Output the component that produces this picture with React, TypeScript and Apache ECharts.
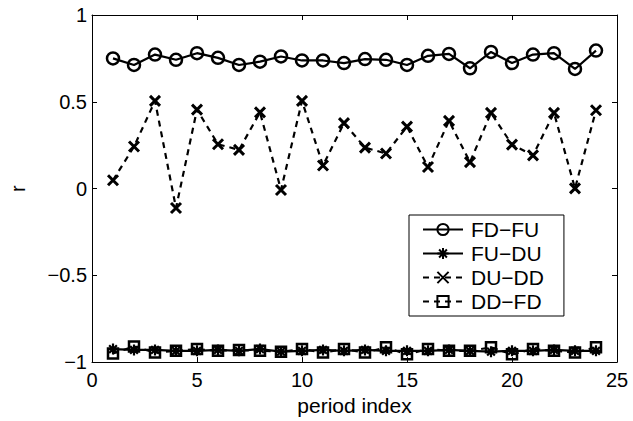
import React, { useEffect, useRef } from "react";
import * as echarts from "echarts";

const periods = [1,2,3,4,5,6,7,8,9,10,11,12,13,14,15,16,17,18,19,20,21,22,23,24];
const fdFu = [0.750,0.712,0.772,0.742,0.780,0.753,0.712,0.731,0.761,0.738,0.738,0.723,0.746,0.742,0.712,0.765,0.776,0.693,0.787,0.723,0.772,0.780,0.689,0.795];
const fuDu = [-0.925,-0.93,-0.93,-0.935,-0.935,-0.93,-0.935,-0.925,-0.94,-0.935,-0.93,-0.935,-0.93,-0.935,-0.935,-0.935,-0.93,-0.935,-0.94,-0.935,-0.935,-0.93,-0.935,-0.935];
const duDd = [0.048,0.242,0.505,-0.112,0.455,0.255,0.223,0.439,-0.008,0.505,0.133,0.377,0.236,0.202,0.357,0.124,0.390,0.152,0.436,0.253,0.191,0.436,0.001,0.451];
const ddFd = [-0.95,-0.91,-0.945,-0.935,-0.925,-0.935,-0.93,-0.935,-0.94,-0.925,-0.945,-0.925,-0.945,-0.915,-0.955,-0.925,-0.935,-0.935,-0.915,-0.955,-0.925,-0.935,-0.945,-0.915];
const seriesNames = ["FD\u2212FU", "FU\u2212DU", "DU\u2212DD", "DD\u2212FD"];
const xTitle = "period index";
const yTitle = "r";

const FONT = "Liberation Sans";
const CIRCLE = "path://M6,0A6,6,0,1,1,-6,0A6,6,0,1,1,6,0Z";
const ASTERISK = "path://M0,-5L0,5M-5,0L5,0M-3.5,-3.5L3.5,3.5M-3.5,3.5L3.5,-3.5";
const CROSS = "path://M-5,-5L5,5M-5,5L5,-5";
const SQUARE = "path://M-5,-5L5,-5L5,5L-5,5Z";

export default function App() {
  const ref = useRef<HTMLDivElement>(null);
  useEffect(() => {
    if (!ref.current) return;
    const chart = echarts.init(ref.current, undefined, { renderer: "svg" });
    const toPairs = (arr: number[]) => arr.map((v, i) => [periods[i], v]);
    const axisCommon = {
      axisLine: { show: true, onZero: false, lineStyle: { color: "#000", width: 1 } },
      axisTick: { show: true, inside: true, length: 5, lineStyle: { color: "#000", width: 1 } },
      splitLine: { show: false },
    };
    chart.setOption({
      animation: false,
      backgroundColor: "#fff",
      textStyle: { fontFamily: FONT },
      grid: { left: 84, right: 16, top: 15, bottom: 52, containLabel: false },
      xAxis: [
        {
          type: "value", min: 0, max: 25, interval: 5, position: "bottom",
          ...axisCommon,
          axisLabel: { color: "#000", fontSize: 20, fontFamily: FONT, margin: 8 },
          name: xTitle, nameLocation: "middle", nameGap: 29,
          nameTextStyle: { color: "#000", fontSize: 21, fontFamily: FONT },
        },
        {
          type: "value", min: 0, max: 25, interval: 5, position: "top",
          ...axisCommon, axisLabel: { show: false },
        },
      ],
      yAxis: [
        {
          type: "value", min: -1, max: 1, interval: 0.5, position: "left",
          ...axisCommon,
          axisLabel: {
            color: "#000", fontSize: 20, fontFamily: FONT, margin: 5,
            formatter: (v: number) => String(v).replace("-", "\u2212"),
          },
          name: yTitle, nameLocation: "middle", nameGap: 64,
          nameTextStyle: { color: "#000", fontSize: 20, fontFamily: FONT },
        },
        {
          type: "value", min: -1, max: 1, interval: 0.5, position: "right",
          ...axisCommon, axisLabel: { show: false },
        },
      ],
      legend: {
        orient: "vertical", left: 409, top: 215,
        padding: [4, 20, 4, 13], itemGap: 3, itemWidth: 40, itemHeight: 14,
        borderColor: "#000", borderWidth: 1, backgroundColor: "#fff",
        textStyle: { color: "#000", fontSize: 21, fontFamily: FONT, lineHeight: 21, padding: [0, 0, 0, 3] },
        data: seriesNames,
      },
      series: [
        {
          name: seriesNames[0], type: "line", data: toPairs(fdFu),
          symbol: CIRCLE, symbolSize: 12,
          lineStyle: { color: "#000", width: 2.2 },
          itemStyle: { color: "transparent", borderColor: "#000", borderWidth: 2.5 },
        },
        {
          name: seriesNames[1], type: "line", data: toPairs(fuDu),
          symbol: ASTERISK, symbolSize: 11,
          lineStyle: { color: "#000", width: 2.2 },
          itemStyle: { color: "#000", borderColor: "#000", borderWidth: 2.2 },
        },
        {
          name: seriesNames[2], type: "line", data: toPairs(duDd),
          symbol: CROSS, symbolSize: 10,
          lineStyle: { color: "#000", width: 2.2, type: [6, 5] },
          itemStyle: { color: "#000", borderColor: "#000", borderWidth: 3 },
        },
        {
          name: seriesNames[3], type: "line", data: toPairs(ddFd),
          symbol: SQUARE, symbolSize: 10,
          lineStyle: { color: "#000", width: 2.2, type: [6, 5] },
          itemStyle: { color: "transparent", borderColor: "#000", borderWidth: 2.5 },
        },
      ],
    });
    return () => chart.dispose();
  }, []);
  return <div ref={ref} style={{ position: "fixed", left: 0, top: 0, width: 633, height: 421 }} />;
}
